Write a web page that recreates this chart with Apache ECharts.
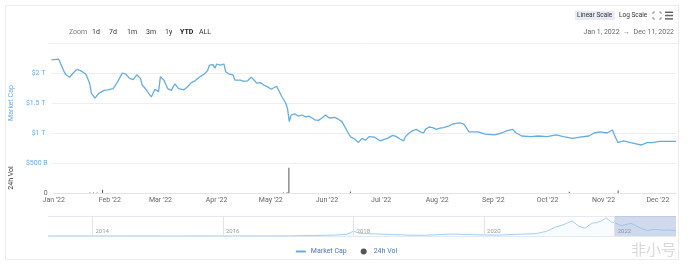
<!DOCTYPE html>
<html>
<head>
<meta charset="utf-8">
<script src="https://cdn.jsdelivr.net/npm/echarts@6/dist/echarts.min.js"></script>
<style>
html,body{margin:0;padding:0;background:#fff;}
#chart{width:692px;height:270px;}
</style>
</head>
<body>
<div id="chart"></div>
<script>
// ---- Data ----
// Market cap 2022: day offset from Jan 1, 2022 and value in trillions USD
const mcDays = [0,4,5,7,8,10,12,14,16,17,19,20,21,22,24,26,27,29,31,34,36,38,39,41,43,45,47,49,50,52,55,57,58,59,60,62,64,66,68,70,71,73,75,77,79,80,82,84,86,87,89,90,91,93,95,96,98,100,101,102,104,106,108,110,112,113,115,117,119,121,122,124,125,127,129,130,131,132,134,136,138,140,142,143,145,147,149,151,153,154,156,158,160,162,164,165,167,169,171,173,175,176,178,181,183,185,186,188,190,192,194,195,197,199,201,203,205,206,208,210,212,214,216,217,219,221,223,225,227,228,230,231,235,239,244,248,251,254,256,259,264,268,273,278,282,287,291,296,299,302,306,309,310,312,315,319,322,325,328,331,335,339,342,344];
const mcValues = [2.22,2.23,2.16,2.02,1.97,1.93,2.0,2.06,2.04,2.02,1.98,1.97,1.83,1.66,1.58,1.66,1.69,1.71,1.72,1.74,1.83,1.94,2.0,1.98,1.91,1.89,1.97,1.91,1.8,1.73,1.6,1.73,1.76,1.69,1.94,1.88,1.74,1.71,1.82,1.74,1.73,1.72,1.77,1.84,1.87,1.88,1.94,1.98,2.04,2.13,2.14,2.08,2.15,2.13,2.15,2.02,1.98,1.97,1.88,1.86,1.88,1.86,1.87,1.93,1.87,1.83,1.84,1.8,1.77,1.73,1.75,1.78,1.72,1.6,1.5,1.41,1.19,1.3,1.32,1.28,1.3,1.27,1.28,1.25,1.22,1.21,1.25,1.3,1.25,1.22,1.26,1.23,1.19,1.08,0.97,0.93,0.9,0.84,0.91,0.88,0.94,0.97,0.93,0.87,0.89,0.91,0.94,0.96,0.94,0.9,0.87,0.94,1.0,1.04,1.06,1.02,1.0,1.06,1.1,1.09,1.06,1.08,1.09,1.1,1.12,1.15,1.16,1.17,1.15,1.11,1.02,1.0,1.02,0.98,0.97,1.0,1.04,1.06,1.0,0.95,0.94,0.95,0.94,0.97,0.94,0.91,0.93,0.95,1.0,1.02,1.0,1.05,0.97,0.84,0.87,0.84,0.82,0.8,0.84,0.84,0.86,0.86,0.86,0.86];

// 24h volume (billions USD), only visible marks
const volDays = [20,22,24,27,127,129,130,164,285,312];
const volValues = [8,10,8,55,10,14,420,25,20,40];

// X axis month ticks
const monthDays = [0,31,59,90,120,151,181,212,243,273,304,334];
const monthLabels = ["Jan '22","Feb '22","Mar '22","Apr '22","May '22","Jun '22","Jul '22","Aug '22","Sep '22","Oct '22","Nov '22","Dec '22"];

// Navigator (all-time market cap, trillions), decimal years
const navYears = [2013.32,2013.9,2014.0,2014.5,2015.0,2015.5,2016.0,2016.5,2017.0,2017.4,2017.7,2017.9,2018.0,2018.1,2018.3,2018.6,2018.9,2019.1,2019.5,2019.9,2020.2,2020.5,2020.8,2020.95,2021.1,2021.2,2021.35,2021.45,2021.55,2021.65,2021.72,2021.8,2021.87,2021.95,2022.0,2022.1,2022.25,2022.4,2022.5,2022.6,2022.75,2022.84,2022.87,2022.94];
const navValues = [0.002,0.012,0.01,0.008,0.005,0.004,0.007,0.01,0.018,0.09,0.15,0.3,0.79,0.45,0.35,0.25,0.12,0.13,0.32,0.2,0.15,0.27,0.4,0.75,1.5,1.8,2.5,1.6,1.3,2.1,2.2,2.5,3.0,2.3,2.2,1.7,2.1,1.3,0.9,1.1,0.95,1.0,0.85,0.86];
const navTickYears = [2014,2016,2018,2020,2022];
const navSelection = [2022.0, 2022.94];

// ---- Chart ----
const chart = echarts.init(document.getElementById('chart'), null, {renderer:'canvas'});
const FONT = 'Roboto, "Noto Sans", sans-serif';
const lineColor = '#63ade4';
const gridLine = '#eeeeee';

const option = {
  animation: false,
  textStyle: {fontFamily: FONT},
  grid: [
    {left: 48, right: 16, top: 43, height: 120},
    {left: 48, right: 16, top: 163, height: 30},
    {left: 48, right: 16, top: 216, height: 20}
  ],
  xAxis: [
    {gridIndex: 0, type: 'value', min: 0, max: 344, show: false},
    {gridIndex: 1, type: 'value', min: 0, max: 344,
      axisLine: {show: true, lineStyle: {color: '#e4e4e4'}},
      axisTick: {show: false},
      splitLine: {show: false},
      axisLabel: {customValues: monthDays, formatter: v => monthLabels[monthDays.indexOf(v)] || '',
        color: '#666', fontSize: 7, margin: 4, fontFamily: FONT}
    },
    {gridIndex: 2, type: 'value', min: 2013.32, max: 2022.94,
      axisLine: {show: false}, axisTick: {show: false}, splitLine: {show: false},
      axisLabel: {customValues: navTickYears, inside: true, margin: 2, align: 'left',
        padding: [0,0,0,3], color: '#999', fontSize: 6, formatter: v => String(v), fontFamily: FONT}
    }
  ],
  yAxis: [
    {gridIndex: 0, type: 'value', min: 0.5, max: 2.5, interval: 0.5,
      name: 'Market Cap', nameLocation: 'middle', nameGap: 32, nameRotate: 90,
      nameTextStyle: {color: lineColor, fontSize: 7, fontFamily: FONT},
      axisLine: {show: false}, axisTick: {show: false},
      splitLine: {lineStyle: {color: gridLine}},
      axisLabel: {color: lineColor, fontSize: 7, margin: 6, fontFamily: FONT,
        formatter: v => (v === 0.5 || v === 2.5) ? '' : '$' + v + ' T'}
    },
    {gridIndex: 1, type: 'value', min: 0, max: 500, interval: 500,
      name: '24h Vol', nameLocation: 'middle', nameGap: 19, nameRotate: 90,
      nameTextStyle: {color: '#333', fontSize: 7, fontFamily: FONT},
      axisLine: {show: false}, axisTick: {show: false},
      splitLine: {lineStyle: {color: gridLine}},
      axisLabel: {fontSize: 7, margin: 6, fontFamily: FONT,
        color: v => (Number(v) === 0 ? '#666' : lineColor),
        formatter: v => v === 0 ? '0' : '$500 B'}
    },
    {gridIndex: 2, type: 'value', min: 0, max: 3.3, interval: 3.3,
      axisLine: {show: false}, axisTick: {show: false}, axisLabel: {show: false},
      splitLine: {lineStyle: {color: '#e3e8f2'}}
    }
  ],
  legend: {
    left: 'center', top: 243, itemGap: 14, itemWidth: 10, itemHeight: 6,
    textStyle: {color: '#4b74c0', fontSize: 7, fontFamily: FONT},
    data: [
      {name: 'Market Cap', itemStyle: {opacity: 0}},
      {name: '24h Vol', icon: 'circle'}
    ]
  },
  series: [
    {name: 'Market Cap', type: 'line', xAxisIndex: 0, yAxisIndex: 0,
      data: mcDays.map((d, i) => [d, mcValues[i]]),
      symbol: 'none', lineStyle: {color: lineColor, width: 1.3}, itemStyle: {color: lineColor}},
    {name: '24h Vol', type: 'bar', xAxisIndex: 1, yAxisIndex: 1,
      data: volDays.map((d, i) => [d, volValues[i]]),
      barWidth: 1, itemStyle: {color: '#555'}},
    {name: 'nav', type: 'line', xAxisIndex: 2, yAxisIndex: 2,
      data: navYears.map((y, i) => [y, navValues[i]]),
      symbol: 'none', lineStyle: {color: '#8cc3ea', width: 0.8},
      areaStyle: {color: 'rgba(140,195,234,0.08)'},
      markLine: {silent: true, symbol: 'none', label: {show: false},
        lineStyle: {color: '#e3e3e3', width: 1, type: 'solid'},
        data: navTickYears.map(y => ({xAxis: y}))},
      markArea: {silent: true, itemStyle: {color: 'rgba(102,133,194,0.3)'},
        data: [[{xAxis: navSelection[0]}, {xAxis: navSelection[1]}]]}
    }
  ],
  graphic: [
    {type: 'rect', shape: {x: 5.5, y: 5.5, width: 673, height: 254}, style: {fill: 'none', stroke: '#ececec', lineWidth: 1}, silent: true},
    {type: 'line', shape: {x1: 48, y1: 43.5, x2: 678, y2: 43.5}, style: {stroke: '#eeeeee', lineWidth: 1}},
    {type: 'text', x: 69, y: 32, style: {text: 'Zoom', fill: '#777', fontSize: 7, fontFamily: FONT, verticalAlign: 'middle'}},
    {type: 'text', x: 92, y: 32, style: {text: '1d', fill: '#333', fontSize: 7, fontFamily: FONT, verticalAlign: 'middle'}},
    {type: 'text', x: 109, y: 32, style: {text: '7d', fill: '#333', fontSize: 7, fontFamily: FONT, verticalAlign: 'middle'}},
    {type: 'text', x: 127, y: 32, style: {text: '1m', fill: '#333', fontSize: 7, fontFamily: FONT, verticalAlign: 'middle'}},
    {type: 'text', x: 146, y: 32, style: {text: '3m', fill: '#333', fontSize: 7, fontFamily: FONT, verticalAlign: 'middle'}},
    {type: 'text', x: 165, y: 32, style: {text: '1y', fill: '#333', fontSize: 7, fontFamily: FONT, verticalAlign: 'middle'}},
    {type: 'text', x: 180, y: 32, style: {text: 'YTD', fill: '#222', fontSize: 7, fontWeight: 'bold', fontFamily: FONT, verticalAlign: 'middle'}},
    {type: 'text', x: 199, y: 32, style: {text: 'ALL', fill: '#333', fontSize: 7, fontFamily: FONT, verticalAlign: 'middle'}},
    {type: 'rect', shape: {x: 575, y: 11, width: 40, height: 9}, style: {fill: '#e6ebf5'}},
    {type: 'text', x: 577, y: 15.5, style: {text: 'Linear Scale', fill: '#333', fontSize: 6.5, fontFamily: FONT, verticalAlign: 'middle'}},
    {type: 'text', x: 619, y: 15.5, style: {text: 'Log Scale', fill: '#333', fontSize: 6.5, fontFamily: FONT, verticalAlign: 'middle'}},
    {type: 'polyline', shape: {points: [[653,14],[653,12],[655,12]]}, style: {stroke: '#777', lineWidth: 0.8, fill: 'none'}},
    {type: 'polyline', shape: {points: [[659,12],[661,12],[661,14]]}, style: {stroke: '#777', lineWidth: 0.8, fill: 'none'}},
    {type: 'polyline', shape: {points: [[653,17],[653,19],[655,19]]}, style: {stroke: '#777', lineWidth: 0.8, fill: 'none'}},
    {type: 'polyline', shape: {points: [[659,19],[661,19],[661,17]]}, style: {stroke: '#777', lineWidth: 0.8, fill: 'none'}},
    {type: 'rect', shape: {x: 665, y: 11.5, width: 8, height: 1.5}, style: {fill: '#666'}},
    {type: 'rect', shape: {x: 665, y: 14.8, width: 8, height: 1.5}, style: {fill: '#666'}},
    {type: 'rect', shape: {x: 665, y: 18.1, width: 8, height: 1.5}, style: {fill: '#666'}},
    {type: 'text', x: 674, y: 32, style: {text: 'Jan 1, 2022  \u2192  Dec 11, 2022', fill: '#666', fontSize: 7, fontFamily: FONT, align: 'right', verticalAlign: 'middle'}},
    {type: 'text', x: 676, y: 249, style: {text: '非小号', fill: '#d8d8d8', fontSize: 15, fontFamily: '"Noto Sans CJK SC", sans-serif', align: 'right', verticalAlign: 'middle'}}
  ]
};
chart.setOption(option);
</script>
</body>
</html>
